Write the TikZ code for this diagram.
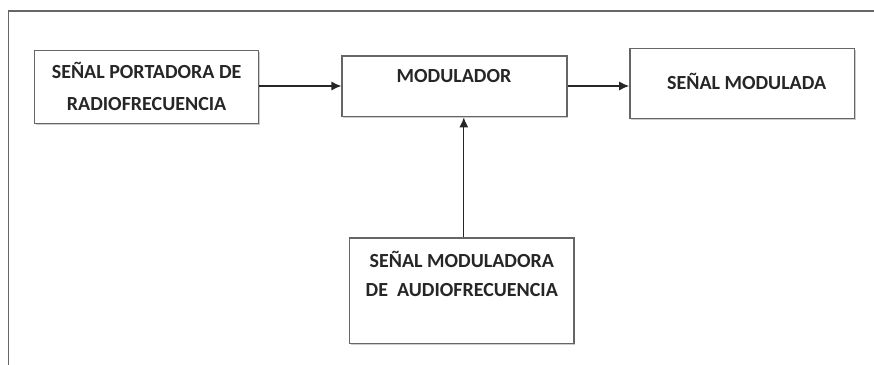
\documentclass[tikz,border=0pt]{standalone}
\usepackage{fontspec}
\setmainfont{Carlito}
\usetikzlibrary{shadows,arrows.meta}
\begin{document}
\begin{tikzpicture}[x=1pt,y=-1pt,
    blockbox/.style={draw=black!60,line width=1.4pt,fill=white,
      drop shadow={shadow xshift=1.2pt,shadow yshift=-1.2pt,fill=black!40,opacity=0.5},
      inner sep=0pt,minimum width=#1},
    blocktext/.style={font=\fontsize{20}{32}\selectfont\bfseries,align=center,inner sep=0pt,text=black!85},
    sig/.style={-{Latex[length=10pt,width=9pt]},line width=1.3pt,draw=black!85}]
  \useasboundingbox (0,0) rectangle (874,364);
  % frame
  \draw[black!60,line width=1.2pt] (880,11) -- (8.4,11) -- (8.4,370);
  % blocks
  \node[blockbox=224pt,minimum height=73pt] (carrier) at (146.6,86.8) {};
  \node[blockbox=224.7pt,minimum height=60.7pt] (modulator) at (454.5,86.3) {};
  \node[blockbox=224.6pt,minimum height=70pt] (modulated) at (742.2,83.7) {};
  \node[blockbox=224.6pt,minimum height=105.3pt] (audio) at (461.8,290.7) {};
  % texts
  \node[blocktext] (carriertxt) at (146.6,86.7) {SEÑAL PORTADORA DE\\RADIOFRECUENCIA};
  \node[blocktext] (modulatortxt) at (454,76.3) {MODULADOR};
  \node[blocktext] (modulatedtxt) at (746.6,81.7) {SEÑAL MODULADA};
  \node[blocktext,font=\fontsize{20}{29}\selectfont\bfseries] (audiotxt) at (461.8,273.5) {SEÑAL MODULADORA\\DE\ \ AUDIOFRECUENCIA};
  % signals
  \draw[sig] (carrier.east |- 0,86) -- (modulator.west |- 0,86);
  \draw[sig] (modulator.east |- 0,86) -- (modulated.west |- 0,86);
  \draw[sig] (audio.north -| 463.8,0) -- (modulator.south -| 463.8,0);
\end{tikzpicture}
\end{document}
